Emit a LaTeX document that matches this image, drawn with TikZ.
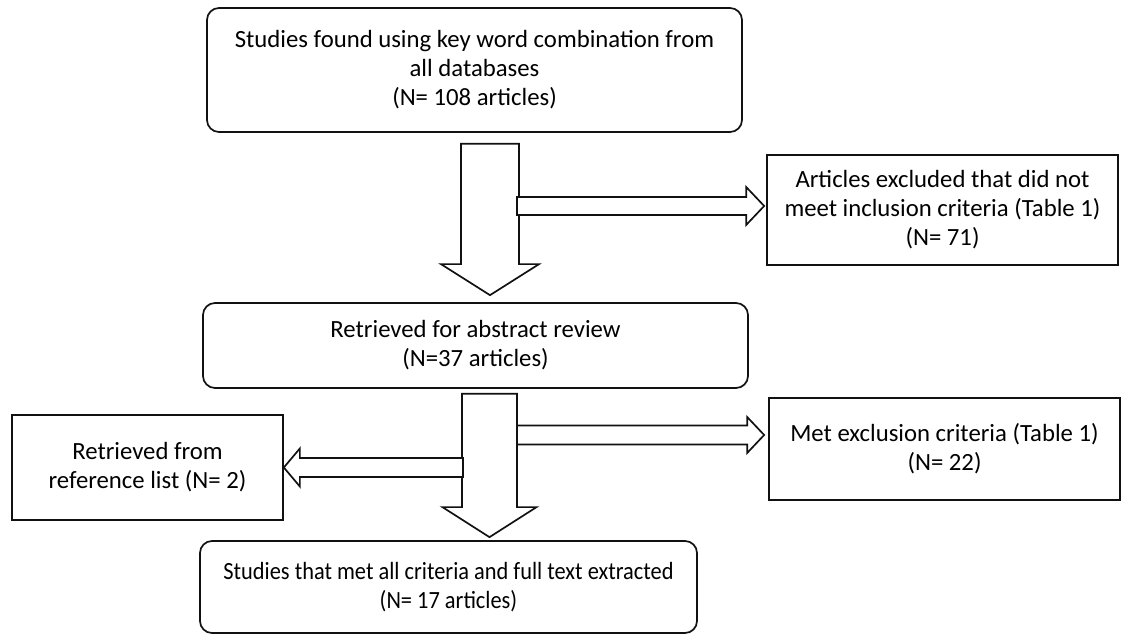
\documentclass[tikz,border=0pt]{standalone}
\usepackage{fontspec}
\setmainfont{Carlito}
\usepackage{xcolor}
\usepackage{tikz}
\usetikzlibrary{calc}
\definecolor{FlowLine}{HTML}{111111}

\newcommand{\blockarrow}[5]{%
  \coordinate (ba-h) at ($(#2)!#5!(#1)$);
  \filldraw[barrow] ($(#1)!#3!90:(#2)$) -- ($(ba-h)!#3!90:(#2)$) -- ($(ba-h)!#4!90:(#2)$)
    -- (#2) -- ($(ba-h)!#4!-90:(#2)$) -- ($(ba-h)!#3!-90:(#2)$) -- ($(#1)!#3!-90:(#2)$) -- cycle;}
\newcommand{\narrowline}[1]{\scalebox{0.905}[1]{#1}}

\begin{document}
\begin{tikzpicture}[x=1cm,y=1cm,
  rbox/.style={draw=FlowLine,line width=1.2pt,rounded corners=0.3cm,align=center,inner sep=0pt,
    font=\fontsize{17.6}{20.6}\selectfont},
  sbox/.style={draw=FlowLine,line width=1.2pt,align=center,inner sep=0pt,
    font=\fontsize{17.6}{20.6}\selectfont},
  barrow/.style={draw=FlowLine,fill=white,line width=1.2pt,line join=miter}]
\path[use as bounding box] (0,0) rectangle (28.025,15.875);
\node[rbox,minimum width=13.375cm,minimum height=3.10cm] (found) at (11.8625,14.125)
  {Studies found using key word combination from\\all databases\\(N= 108 articles)};
\node[sbox,minimum width=8.775cm,minimum height=2.75cm] (excl1) at (23.5625,10.625)
  {Articles excluded that did not\\meet inclusion criteria (Table 1)\\(N= 71)};
\node[rbox,minimum width=13.625cm,minimum height=2.125cm] (abstract) at (11.8875,7.2375)
  {Retrieved for abstract review\\(N=37 articles)};
\node[sbox,minimum width=6.775cm,minimum height=2.625cm] (reflist) at (3.6875,4.1875)
  {Retrieved from\\reference list (N= 2)};
\node[sbox,minimum width=8.775cm,minimum height=2.55cm] (excl2) at (23.6125,4.65)
  {Met exclusion criteria (Table 1)\\(N= 22)};
\node[rbox,minimum width=12.425cm,minimum height=2.30cm] (final) at (11.2125,1.20)
  {\narrowline{Studies that met all criteria and full text extracted}\\\narrowline{(N= 17 articles)}};
% block arrows
\coordinate (d1s) at ($(found.south)+(0.3875,-0.275)$);
\coordinate (d1t) at ($(abstract.north)+(0.3625,0.175)$);
\coordinate (r1s) at (12.925,10.725);
\coordinate (r1t) at ($(excl1.west)+(-0.05,0.10)$);
\coordinate (d2s) at ($(abstract.south)+(0.35,-0.125)$);
\coordinate (d2t) at ($(final.north)+(1.025,0.075)$);
\coordinate (l1s) at (11.575,4.1875);
\coordinate (r2s) at (12.925,5.0);
\coordinate (r2t) at ($(excl2.west)+(-0.10,0.35)$);
\blockarrow{d1s}{d1t}{0.725cm}{1.225cm}{0.775cm}
\blockarrow{r1s}{r1t}{0.225cm}{0.475cm}{0.45cm}
\blockarrow{d2s}{d2t}{0.6875cm}{1.175cm}{0.75cm}
\blockarrow{l1s}{reflist.east}{0.2375cm}{0.475cm}{0.40cm}
\blockarrow{r2s}{r2t}{0.2375cm}{0.45cm}{0.425cm}
\end{tikzpicture}
\end{document}
